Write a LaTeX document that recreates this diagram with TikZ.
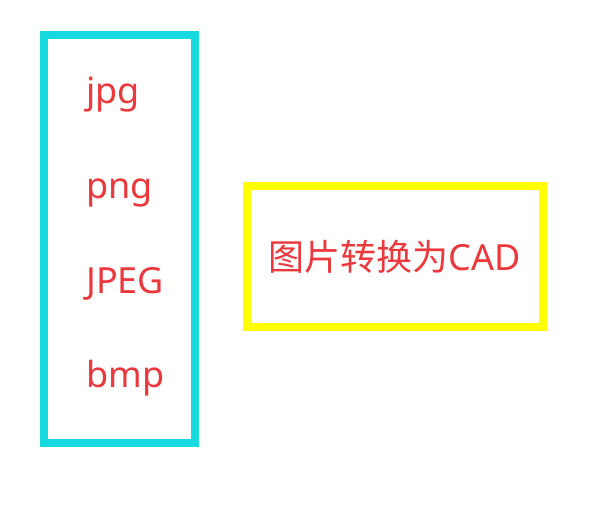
\documentclass[tikz,border=0pt]{standalone}
\usepackage{fontspec}
\setmainfont{Noto Sans}
\newfontfamily\cjk{Noto Sans CJK SC}
\definecolor{fmtred}{RGB}{235,56,60}
\definecolor{fmtcyan}{RGB}{23,217,222}
\definecolor{cadyellow}{RGB}{255,255,0}
\begin{document}
\begin{tikzpicture}[x=1pt,y=-1pt,every node/.style={text=fmtred,inner sep=0pt,font=\fontsize{36}{40}\selectfont}]
\useasboundingbox (0,0) rectangle (600,514);

\draw[fmtcyan,line width=8pt] (44,35) rectangle (195,443);
\node[anchor=base west] (jpg) at (86,103) {jpg};
\node[anchor=base west] (png) at (86,198) {png};
\node[anchor=base west] (jpeg) at (86,293) {JPEG};
\node[anchor=base west] (bmp) at (86,387) {bmp};

\node[draw=cadyellow,line width=8pt,minimum width=296pt,minimum height=141pt] (cad) at (395,256.5) {{\cjk 图片转换为}CAD};

\end{tikzpicture}
\end{document}
